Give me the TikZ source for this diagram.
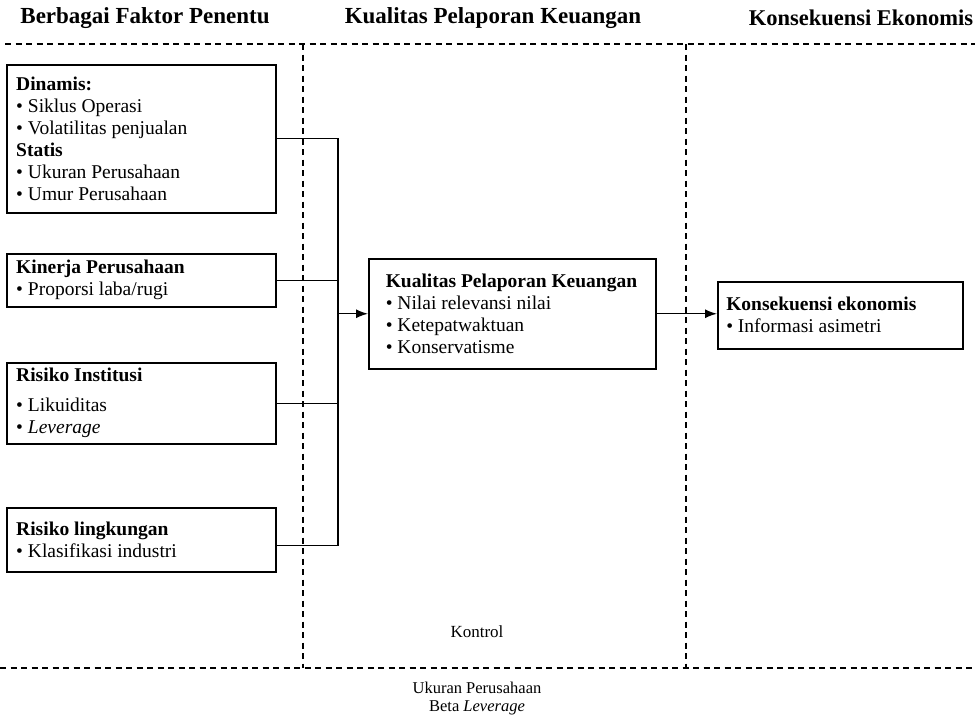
\documentclass[tikz,border=0pt]{standalone}
\usepackage{fontspec}
\setmainfont{Liberation Serif}
\usetikzlibrary{arrows.meta,calc}
\begin{document}
\begin{tikzpicture}[x=1pt,y=-1pt,
  hdr/.style={font=\fontsize{23}{26}\selectfont\bfseries, inner sep=0pt},
  box/.style={draw, line width=1.5pt, anchor=north west, align=left, inner sep=0pt,
    font=\fontsize{19.5}{22}\selectfont},
  sep/.style={dashed, line width=1.2pt, dash pattern=on 6pt off 4.5pt},
  conn/.style={line width=1.4pt},
  arr/.style={conn, -{Latex[length=12pt,width=9pt]}},
  plain/.style={inner sep=0pt}]
\useasboundingbox (0,0) rectangle (975,715);
% headers
\node[hdr] (h1) at (145,18) {Berbagai Faktor Penentu};
\node[hdr] (h2) at (493,18) {Kualitas Pelaporan Keuangan};
\node[hdr, font=\fontsize{22.5}{26}\selectfont\bfseries] (h3) at (861,18) {Konsekuensi Ekonomis};
% separators
\coordinate (tl) at (5,44);
\coordinate (tr) at (975,44);
\coordinate (bl) at (0,668);
\coordinate (br) at (975,668);
\coordinate (v1t) at (303,44);
\coordinate (v1b) at (303,668);
\coordinate (v2t) at (686,44);
\coordinate (v2b) at (686,668);
\draw[sep] (tl) -- (tr);
\draw[sep] (bl) -- (br);
\draw[sep] (v1t) -- (v1b);
\draw[sep] (v2t) -- (v2b);
% left boxes
\node[box, minimum width=269pt, minimum height=148pt] (b1) at (6,64) {%
  \parbox[c]{250pt}{\textbf{Dinamis:}\\
  • Siklus Operasi\\
  • Volatilitas penjualan\\
  \textbf{Statis}\\
  • Ukuran Perusahaan\\
  • Umur Perusahaan}};
\node[box, minimum width=269pt, minimum height=53pt] (b2) at (6,253) {%
  \parbox[c]{250pt}{\textbf{Kinerja Perusahaan}\\
  • Proporsi laba/rugi}};
\node[box, minimum width=269pt, minimum height=81pt] (b3) at (6,362) {%
  \parbox[c]{250pt}{\textbf{Risiko Institusi}\\[8pt]
  • Likuiditas\\
  • \textit{Leverage}}};
\node[box, minimum width=269pt, minimum height=64pt] (b4) at (6,507) {%
  \parbox[c]{250pt}{\textbf{Risiko lingkungan}\\
  • Klasifikasi industri}};
% middle box
\node[box, minimum width=287pt, minimum height=110pt] (mid) at (368,258) {%
  \parbox[c]{253pt}{\textbf{Kualitas Pelaporan Keuangan}\\
  • Nilai relevansi nilai\\
  • Ketepatwaktuan\\
  • Konservatisme}};
% right box
\node[box, minimum width=245pt, minimum height=67pt] (rt) at (717,281) {%
  \parbox[c]{228pt}{\textbf{Konsekuensi ekonomis}\\
  • Informasi asimetri}};
% connectors
\coordinate (bus) at (338,0);
\draw[conn] (b1.east) -- (b1.east -| bus) -- ($(b4.east -| bus)+(0,6)$) -- ($(b4.east)+(0,6)$);
\draw[conn] (b2.east) -- (b2.east -| bus);
\draw[conn] (b3.east) -- (b3.east -| bus);
\draw[arr] (mid.west -| bus) -- (mid.west);
\draw[arr] (mid.east) -- (mid.east -| rt.west);
% bottom texts
\node[plain, font=\fontsize{17}{20}\selectfont] (ktr) at (477,632) {Kontrol};
\node[plain, font=\fontsize{16.5}{18}\selectfont, align=center] (ctl) at (477,699) {Ukuran Perusahaan\\Beta \textit{Leverage}};
\end{tikzpicture}
\end{document}
